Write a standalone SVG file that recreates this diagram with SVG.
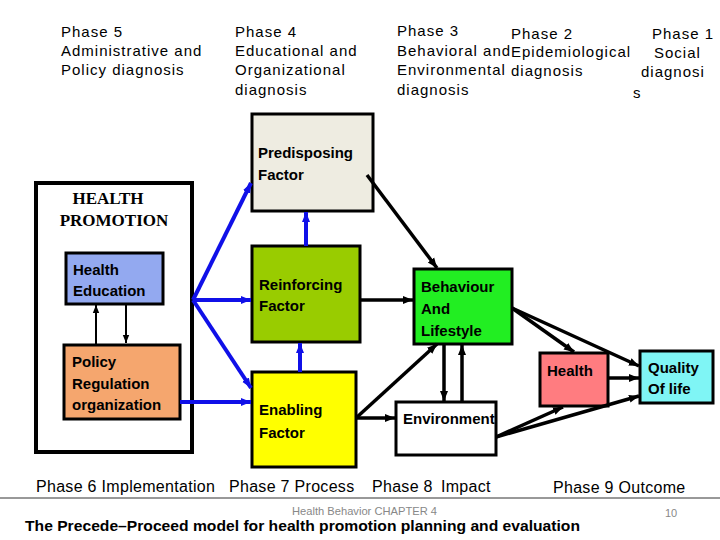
<svg xmlns="http://www.w3.org/2000/svg" width="720" height="540" viewBox="0 0 720 540">
<style>
.ph{font-family:"Liberation Sans",Arial,sans-serif;font-size:15px;letter-spacing:1px;fill:#000}
.bt{font-family:"Liberation Sans",Arial,sans-serif;font-size:16px;letter-spacing:0.3px;fill:#000}
.nl{font-family:"Liberation Sans",Arial,sans-serif;font-size:15px;font-weight:bold;fill:#000}
.box{stroke:#000;stroke-width:3}
.bl{stroke:#1010E8;stroke-width:4;fill:none}
.k{stroke:#000;stroke-width:3.5;fill:none}
.kt{stroke:#000;stroke-width:2;fill:none}
</style>
<defs>
<marker id="ab" viewBox="0 0 10 10" refX="10" refY="5" markerWidth="10" markerHeight="10" markerUnits="userSpaceOnUse" orient="auto"><path d="M0,1 L10,5 L0,9 z" fill="#000"/></marker>
<marker id="abs" viewBox="0 0 10 10" refX="10" refY="5" markerWidth="8" markerHeight="8" markerUnits="userSpaceOnUse" orient="auto"><path d="M0,1 L10,5 L0,9 z" fill="#000"/></marker>
<marker id="au" viewBox="0 0 10 10" refX="10" refY="5" markerWidth="10" markerHeight="10" markerUnits="userSpaceOnUse" orient="auto"><path d="M0,1 L10,5 L0,9 z" fill="#1010E8"/></marker>
</defs>
<rect width="720" height="540" fill="#fff"/>

<g id="phases">
<text class="ph" x="61" y="37">Phase 5</text>
<text class="ph" x="61" y="56">Administrative and</text>
<text class="ph" x="61" y="75">Policy diagnosis</text>
<text class="ph" x="235" y="37">Phase 4</text>
<text class="ph" x="235" y="56">Educational and</text>
<text class="ph" x="235" y="75">Organizational</text>
<text class="ph" x="235" y="95">diagnosis</text>
<text class="ph" x="397" y="36">Phase 3</text>
<text class="ph" x="397" y="56">Behavioral and</text>
<text class="ph" x="397" y="75">Environmental</text>
<text class="ph" x="397" y="95">diagnosis</text>
<text class="ph" x="511" y="39">Phase 2</text>
<text class="ph" x="511" y="57">Epidemiological</text>
<text class="ph" x="511" y="76">diagnosis</text>
<text class="ph" x="652" y="39">Phase 1</text>
<text class="ph" x="654" y="58">Social</text>
<text class="ph" x="641" y="77">diagnosi</text>
<text class="ph" x="633" y="98">s</text>
</g>

<g id="health-promotion">
<rect x="36" y="183" width="156" height="269" fill="#fff" stroke="#000" stroke-width="4"/>
<text x="108" y="204" text-anchor="middle" font-family="Liberation Serif,Times New Roman,serif" font-size="17" font-weight="bold">HEALTH</text>
<text x="114" y="226" text-anchor="middle" font-family="Liberation Serif,Times New Roman,serif" font-size="17" font-weight="bold">PROMOTION</text>
</g>

<g id="health-education">
<rect class="box" x="66" y="253" width="97" height="51" fill="#93A9F0"/>
<text class="nl" x="73" y="275">Health</text>
<text class="nl" x="73" y="296">Education</text>
</g>

<g id="policy">
<rect class="box" x="64" y="345" width="116" height="74" fill="#F5A66E"/>
<text class="nl" x="72" y="367">Policy</text>
<text class="nl" x="72" y="389">Regulation</text>
<text class="nl" x="72" y="410">organization</text>
</g>

<g id="predisposing">
<rect class="box" x="252" y="114" width="121" height="97" fill="#EEECE1"/>
<text class="nl" x="258" y="158">Predisposing</text>
<text class="nl" x="258" y="180">Factor</text>
</g>

<g id="reinforcing">
<rect class="box" x="252" y="246" width="108" height="96" fill="#99CC00"/>
<text class="nl" x="259" y="290">Reinforcing</text>
<text class="nl" x="259" y="311">Factor</text>
</g>

<g id="enabling">
<rect class="box" x="252" y="372" width="104" height="95" fill="#FFFF00"/>
<text class="nl" x="259" y="415">Enabling</text>
<text class="nl" x="259" y="438">Factor</text>
</g>

<g id="behaviour">
<rect class="box" x="414" y="269" width="98" height="75" fill="#22EE22"/>
<text class="nl" x="421" y="292">Behaviour</text>
<text class="nl" x="421" y="314">And</text>
<text class="nl" x="421" y="336">Lifestyle</text>
</g>

<g id="environment">
<rect class="box" x="396" y="402" width="100" height="53" fill="#fff"/>
<text class="nl" x="403" y="424">Environment</text>
</g>

<g id="health">
<rect class="box" x="540" y="353" width="68" height="53" fill="#FF7C80"/>
<text class="nl" x="547" y="376">Health</text>
</g>

<g id="quality">
<rect class="box" x="640" y="351" width="73" height="52" fill="#7FF5F5"/>
<text class="nl" x="648" y="373">Quality</text>
<text class="nl" x="648" y="394">Of life</text>
</g>

<g id="connectors">
<line class="kt" x1="96" y1="345" x2="96" y2="305" marker-end="url(#abs)"/>
<line class="kt" x1="126" y1="304" x2="126" y2="343" marker-end="url(#abs)"/>
<line class="bl" x1="193" y1="300" x2="251" y2="183" marker-end="url(#au)"/>
<line class="bl" x1="193" y1="300" x2="251" y2="300" marker-end="url(#au)"/>
<line class="bl" x1="193" y1="300" x2="251" y2="388" marker-end="url(#au)"/>
<line class="bl" x1="180" y1="402" x2="251" y2="402" marker-end="url(#au)"/>
<line class="bl" x1="306" y1="246" x2="306" y2="212" marker-end="url(#au)"/>
<line class="bl" x1="300" y1="372" x2="300" y2="343" marker-end="url(#au)"/>
<line class="k" x1="367" y1="175" x2="437" y2="268" marker-end="url(#ab)"/>
<line class="k" x1="360" y1="300" x2="413" y2="300" marker-end="url(#ab)"/>
<line class="k" x1="356" y1="418" x2="437" y2="344" marker-end="url(#ab)"/>
<line class="k" x1="356" y1="418" x2="395" y2="418" marker-end="url(#ab)"/>
<line class="k" x1="444" y1="345" x2="444" y2="401" marker-end="url(#ab)"/>
<line class="k" x1="462" y1="402" x2="462" y2="345" marker-end="url(#ab)"/>
<line class="k" x1="512" y1="308" x2="574" y2="352" marker-end="url(#ab)"/>
<line class="k" x1="512" y1="308" x2="639" y2="366" marker-end="url(#ab)"/>
<line class="k" x1="608" y1="378" x2="639" y2="378" marker-end="url(#ab)"/>
<line class="k" x1="496" y1="437" x2="563" y2="407" marker-end="url(#ab)"/>
<line class="k" x1="496" y1="437" x2="639" y2="396" marker-end="url(#ab)"/>
</g>

<g id="footer">
<text class="bt" x="36" y="492">Phase 6 Implementation</text>
<text class="bt" x="229" y="492">Phase 7 Process</text>
<text class="bt" x="372" y="492">Phase 8</text>
<text class="bt" x="441" y="492">Impact</text>
<text class="bt" x="553" y="493">Phase 9 Outcome</text>
<line x1="0" y1="498" x2="720" y2="498" stroke="#333" stroke-width="1"/>
<text x="292" y="515" font-family="Liberation Sans,Arial,sans-serif" font-size="10.5" fill="#888" textLength="145" lengthAdjust="spacingAndGlyphs">Health Behavior CHAPTER 4</text>
<text x="665" y="517" font-family="Liberation Sans,Arial,sans-serif" font-size="11" fill="#888">10</text>
<text x="25" y="531" font-family="Liberation Sans,Arial,sans-serif" font-size="15.5" font-weight="bold" textLength="555" lengthAdjust="spacingAndGlyphs">The Precede–Proceed model for health promotion planning and evaluation</text>
</g>
</svg>
